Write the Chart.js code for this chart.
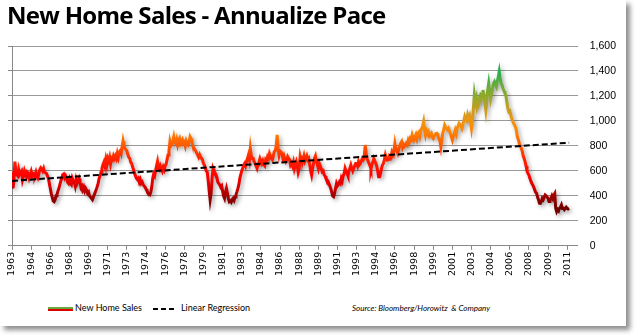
<!DOCTYPE html>
<html>
<head>
<meta charset="utf-8">
<script src="https://cdn.jsdelivr.net/npm/chart.js@4.4.1/dist/chart.umd.min.js"></script>
<style>
  body { margin: 0; background: #fff; }
  #frame { position: absolute; left: 0; top: 0; width: 626px; height: 326px; background: #fff;
           box-shadow: 4px 4px 5px rgba(0,0,0,0.45); }
  #title { position: absolute; left: 7px; top: -2px; font-family: "Open Sans", sans-serif; font-weight: 700;
           font-size: 24px; letter-spacing: -0.7px; color: #000; white-space: nowrap; }
  #chart { position: absolute; left: 0; top: 0; }
  .leg { position: absolute; top: 302px; font-family: Lato, sans-serif; font-size: 9px; color: #000; white-space: nowrap; }
  #sw1 { position: absolute; left: 48px; top: 307px; width: 25px; height: 2px; border-top: 2px solid #6aa840; background: #e00000; }
  #sw2 { position: absolute; left: 153px; top: 308px; width: 24px; height: 2px;
         background: repeating-linear-gradient(to right, #000 0 5px, transparent 5px 8px); }
  #source { position: absolute; left: 352px; top: 303px; font-family: Lato, sans-serif; font-style: italic; font-size: 8px; white-space: nowrap; }
</style>
</head>
<body>
<div id="frame">
  <canvas id="chart" width="634" height="282"></canvas>
  <div id="title">New Home Sales - Annualize Pace</div>
  <div id="sw1"></div><div class="leg" style="left:75px">New Home Sales</div>
  <div id="sw2"></div><div class="leg" style="left:181px">Linear Regression</div>
  <div id="source">Source: Bloomberg/Horowitz &nbsp;&amp; Company</div>
</div>
<script>
// monthly annualized pace (thousands), Jan 1963 .. Jul 2011
var sales = [
  595, 460, 520, 674, 600, 570, 560, 610, 575, 590, 600, 530,   // 1963
  560, 600, 575, 555, 590, 580, 545, 570, 595, 560, 580, 575,   // 1964
  565, 590, 560, 545, 575, 610, 625, 615, 600, 620, 590, 585,   // 1965
  580, 560, 540, 500, 460, 420, 390, 360, 354, 370, 400, 410,   // 1966
  440, 460, 490, 520, 540, 570, 575, 545, 560, 540, 510, 500,   // 1967
  530, 500, 490, 540, 520, 510, 480, 530, 500, 520, 540, 510,   // 1968
  470, 480, 450, 470, 440, 460, 445, 420, 430, 400, 390, 380,   // 1969
  370, 390, 410, 430, 450, 474, 500, 540, 560, 590, 620, 650,   // 1970
  670, 640, 690, 650, 700, 680, 710, 660, 700, 690, 720, 700,   // 1971
  720, 700, 740, 710, 750, 760, 740, 790, 840, 800, 780, 770,   // 1972
  760, 730, 710, 700, 670, 660, 630, 610, 580, 560, 540, 530,   // 1973
  540, 510, 530, 500, 510, 490, 480, 470, 455, 440, 420, 415,   // 1974
  410, 430, 470, 540, 575, 560, 600, 640, 674, 620, 610, 640,   // 1975
  620, 600, 630, 610, 640, 655, 690, 727, 760, 834, 800, 810,   // 1976
  840, 874, 830, 820, 850, 810, 845, 860, 820, 835, 850, 820,   // 1977
  830, 800, 840, 820, 810, 830, 874, 860, 830, 800, 780, 770,   // 1978
  760, 740, 727, 710, 730, 714, 700, 690, 660, 647, 620, 600,   // 1979
  590, 520, 440, 368, 420, 540, 620, 600, 585, 570, 550, 510,   // 1980
  500, 487, 470, 480, 440, 400, 381, 430, 460, 420, 380, 354,   // 1981
  360, 350, 370, 380, 365, 390, 410, 434, 460, 490, 540, 570,   // 1982
  600, 620, 647, 660, 640, 674, 700, 727, 690, 780, 720, 700,   // 1983
  700, 674, 660, 640, 620, 650, 670, 700, 680, 660, 680, 650,   // 1984
  640, 690, 680, 714, 700, 740, 720, 700, 690, 720, 754, 760,   // 1985
  800, 888, 780, 727, 760, 754, 740, 700, 720, 690, 674, 690,   // 1986
  714, 700, 690, 647, 660, 640, 670, 620, 650, 674, 640, 590,   // 1987
  620, 714, 680, 700, 690, 720, 680, 700, 720, 690, 700, 650,   // 1988
  600, 567, 620, 660, 700, 720, 680, 650, 620, 660, 640, 620,   // 1989
  594, 600, 570, 560, 540, 530, 520, 500, 480, 460, 430, 400,   // 1990
  394, 420, 460, 500, 480, 490, 510, 500, 540, 520, 560, 580,   // 1991
  621, 600, 580, 560, 600, 620, 647, 620, 600, 621, 640, 660,   // 1992
  660, 640, 674, 650, 660, 680, 700, 690, 714, 807, 740, 694,   // 1993
  680, 660, 640, 614, 650, 670, 700, 680, 660, 640, 600, 554,   // 1994
  554, 580, 620, 647, 660, 690, 728, 700, 687, 690, 714, 700,   // 1995
  714, 754, 740, 760, 821, 780, 760, 741, 770, 800, 820, 834,   // 1996
  790, 810, 794, 800, 820, 810, 847, 830, 860, 850, 887, 860,   // 1997
  874, 870, 890, 860, 900, 910, 880, 920, 940, 960, 994, 930,   // 1998
  887, 920, 900, 914, 880, 890, 900, 870, 861, 880, 887, 900,   // 1999
  901, 880, 860, 840, 794, 850, 900, 930, 967, 950, 941, 930,   // 2000
  941, 920, 900, 870, 847, 880, 900, 927, 900, 940, 960, 981,   // 2001
  981, 960, 941, 970, 1000, 1034, 1010, 1000, 1047, 1020, 1040, 990,   // 2002
  940, 1000, 1100, 1207, 1150, 1180, 1101, 1120, 1181, 1200, 1170, 1210, // 2003
  1247, 1200, 1150, 1087, 1160, 1250, 1301, 1240, 1181, 1220, 1260, 1300, // 2004
  1314, 1290, 1274, 1320, 1350, 1394, 1340, 1300, 1287, 1260, 1240, 1221, // 2005
  1200, 1150, 1100, 1074, 1080, 1050, 1021, 1000, 980, 967, 950, 920,   // 2006
  870, 850, 820, 800, 781, 760, 720, 700, 674, 640, 600, 580,   // 2007
  567, 540, 520, 500, 487, 470, 450, 430, 421, 390, 370, 341,   // 2008
  340, 355, 381, 370, 390, 407, 400, 390, 380, 354, 360, 380,   // 2009
  400, 380, 407, 420, 300, 274, 290, 280, 301, 310, 327, 300,   // 2010
  301, 290, 300, 310, 300, 295, 300                              // 2011
];

// trend line end points (month index, value)
var regressionMonths = [0, 582];
var regressionValues = [520, 826];

var tickMonths = [0, 20, 40, 60, 80, 100, 120, 140, 160, 180, 200, 220, 240, 260, 280,
                  300, 320, 340, 360, 380, 400, 420, 440, 460, 480, 500, 520, 540, 560, 580];
var tickLabels = ['1963', '1964', '1966', '1968', '1969', '1971', '1973', '1974', '1976', '1978',
                  '1979', '1981', '1983', '1984', '1986', '1988', '1989', '1991', '1993', '1994',
                  '1996', '1998', '1999', '2001', '2003', '2004', '2006', '2008', '2009', '2011'];

var salesPoints = sales.map(function (v, i) { return { x: i, y: v }; });
var regressionPoints = regressionMonths.map(function (m, i) { return { x: m, y: regressionValues[i] }; });

function valueGradient(context) {
  var chart = context.chart;
  if (!chart.chartArea) return '#e00000';
  var y = chart.scales.y;
  var g = chart.ctx.createLinearGradient(0, y.getPixelForValue(300), 0, y.getPixelForValue(1400));
  g.addColorStop(0.00, '#700000');
  g.addColorStop(0.09, '#a00000');
  g.addColorStop(0.16, '#d80000');
  g.addColorStop(0.24, '#ff0000');
  g.addColorStop(0.36, '#ff2200');
  g.addColorStop(0.46, '#ff5a00');
  g.addColorStop(0.55, '#ff8000');
  g.addColorStop(0.63, '#f09410');
  g.addColorStop(0.71, '#cc9c20');
  g.addColorStop(0.80, '#98a828');
  g.addColorStop(0.89, '#6cac38');
  g.addColorStop(1.00, '#20b050');
  return g;
}

var lineShadow = {
  id: 'lineShadow',
  beforeDatasetDraw: function (chart, args) {
    if (args.meta.label !== 'New Home Sales') return;
    var ctx = chart.ctx;
    ctx.save();
    ctx.shadowColor = 'rgba(0,0,0,0.35)';
    ctx.shadowBlur = 4;
    ctx.shadowOffsetX = 2;
    ctx.shadowOffsetY = 2;
  },
  afterDatasetDraw: function (chart, args) {
    if (args.meta.label !== 'New Home Sales') return;
    chart.ctx.restore();
  }
};

new Chart(document.getElementById('chart').getContext('2d'), {
  type: 'line',
  data: {
    datasets: [{
      label: 'New Home Sales',
      data: salesPoints,
      borderColor: valueGradient,
      borderWidth: 3,
      pointRadius: 0,
      tension: 0,
      order: 2
    }, {
      label: 'Linear Regression',
      data: regressionPoints,
      borderColor: '#000',
      borderWidth: 2,
      borderDash: [6, 3],
      pointRadius: 0,
      order: 1
    }]
  },
  plugins: [lineShadow],
  options: {
    responsive: false,
    animation: false,
    devicePixelRatio: 1,
    layout: { padding: { top: 46, left: 8, right: 6, bottom: 4 } },
    plugins: { legend: { display: false }, tooltip: { enabled: false } },
    scales: {
      x: {
        type: 'linear',
        min: 0,
        max: 591,
        afterBuildTicks: function (axis) {
          axis.ticks = tickMonths.map(function (m) { return { value: m }; });
        },
        ticks: {
          autoSkip: false,
          minRotation: 90,
          maxRotation: 90,
          padding: 2,
          color: '#000',
          font: { family: 'DejaVu Sans', size: 9.5 },
          callback: function (value) { return tickLabels[tickMonths.indexOf(value)]; }
        },
        grid: { drawOnChartArea: false, tickLength: 4, color: '#888' },
        border: { color: '#888' }
      },
      yLeft: {
        position: 'left',
        min: 0,
        max: 1600,
        ticks: { display: false, stepSize: 200 },
        grid: { drawOnChartArea: false, tickLength: 4, color: '#888' },
        border: { color: '#888' }
      },
      y: {
        position: 'right',
        min: 0,
        max: 1600,
        ticks: {
          stepSize: 200,
          padding: 12,
          color: '#000',
          font: { family: 'Liberation Sans', size: 10.5 }
        },
        grid: { color: '#999', drawTicks: false },
        border: { display: false }
      }
    }
  }
});
</script>
</body>
</html>
